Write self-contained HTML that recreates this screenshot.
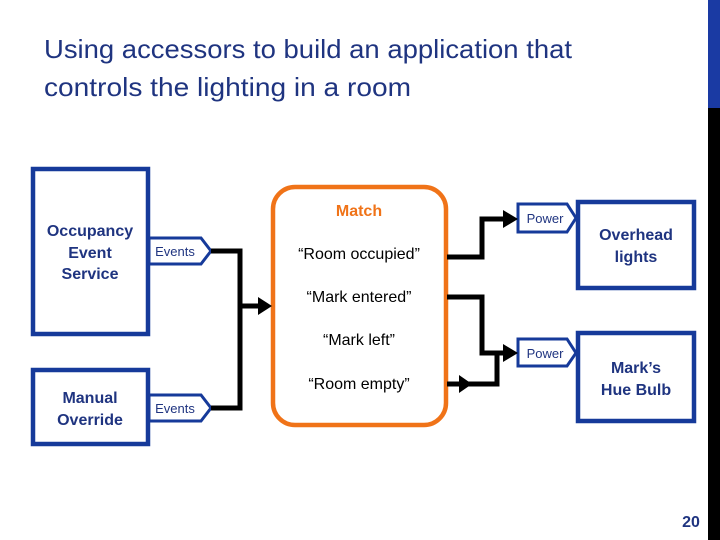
<!DOCTYPE html>
<html><head><meta charset="utf-8"><style>
html,body{margin:0;padding:0;background:#fff;}
svg{display:block;}
</style></head><body>
<svg width="720" height="540" viewBox="0 0 720 540" xmlns="http://www.w3.org/2000/svg">
<rect x="708" y="0" width="12" height="540" fill="#000"/>
<rect x="708" y="0" width="12" height="108" fill="#1a3aa3"/>
<g font-family="Liberation Sans, sans-serif" fill="#1f3480" font-size="26">
<text x="44" y="58" textLength="528" lengthAdjust="spacingAndGlyphs">Using accessors to build an application that</text>
<text x="44" y="96" textLength="367" lengthAdjust="spacingAndGlyphs">controls the lighting in a room</text>
</g>
<g fill="#fff" stroke="#163a9a" stroke-width="4.5">
<rect x="33" y="169" width="115" height="165"/>
<rect x="33" y="370" width="115" height="74"/>
<rect x="578" y="202" width="116" height="86"/>
<rect x="578" y="333" width="116" height="88"/>
</g>
<g fill="#fff" stroke="#163a9a" stroke-width="3">
<polygon points="149,238 201,238 211,251 201,264 149,264"/>
<polygon points="149,395 201,395 211,408 201,421 149,421"/>
<polygon points="518,204 567,204 576,218 567,232 518,232"/>
<polygon points="518,339 567,339 576,353 567,366 518,366"/>
</g>
<rect x="273" y="187" width="173" height="238" rx="22" fill="#fff" stroke="#f07318" stroke-width="4.5"/>
<g stroke="#000" stroke-width="5" fill="none">
<polyline points="211,251 240,251 240,408 211,408"/>
<line x1="240" y1="306" x2="260" y2="306"/>
<polyline points="447,257 482,257 482,219 505,219"/>
<polyline points="447,297 482,297 482,353 505,353"/>
<polyline points="447,384 497,384 497,353"/>
</g>
<g fill="#000">
<polygon points="258,297 272,306 258,315"/>
<polygon points="503,210 518,219 503,228"/>
<polygon points="503,344 518,353 503,362"/>
<polygon points="459,375 472,384 459,393"/>
</g>
<g font-family="Liberation Sans, sans-serif" text-anchor="middle">
<g fill="#1f3480" font-size="16" font-weight="bold">
<text x="90" y="236">Occupancy</text>
<text x="90" y="258">Event</text>
<text x="90" y="279">Service</text>
<text x="90" y="403">Manual</text>
<text x="90" y="425">Override</text>
<text x="636" y="240">Overhead</text>
<text x="636" y="262">lights</text>
<text x="636" y="373">Mark’s</text>
<text x="636" y="395">Hue Bulb</text>
</g>
<g fill="#1f3480" font-size="13">
<text x="175" y="256">Events</text>
<text x="175" y="413">Events</text>
<text x="545" y="223">Power</text>
<text x="545" y="358">Power</text>
</g>
<text x="359" y="216" fill="#f07318" font-size="16" font-weight="bold">Match</text>
<g fill="#000" font-size="16">
<text x="359" y="259">“Room occupied”</text>
<text x="359" y="302">“Mark entered”</text>
<text x="359" y="345">“Mark left”</text>
<text x="359" y="389">“Room empty”</text>
</g>
<text x="691" y="527" fill="#1f3480" font-size="16" font-weight="bold">20</text>
</g>
</svg>
</body></html>
